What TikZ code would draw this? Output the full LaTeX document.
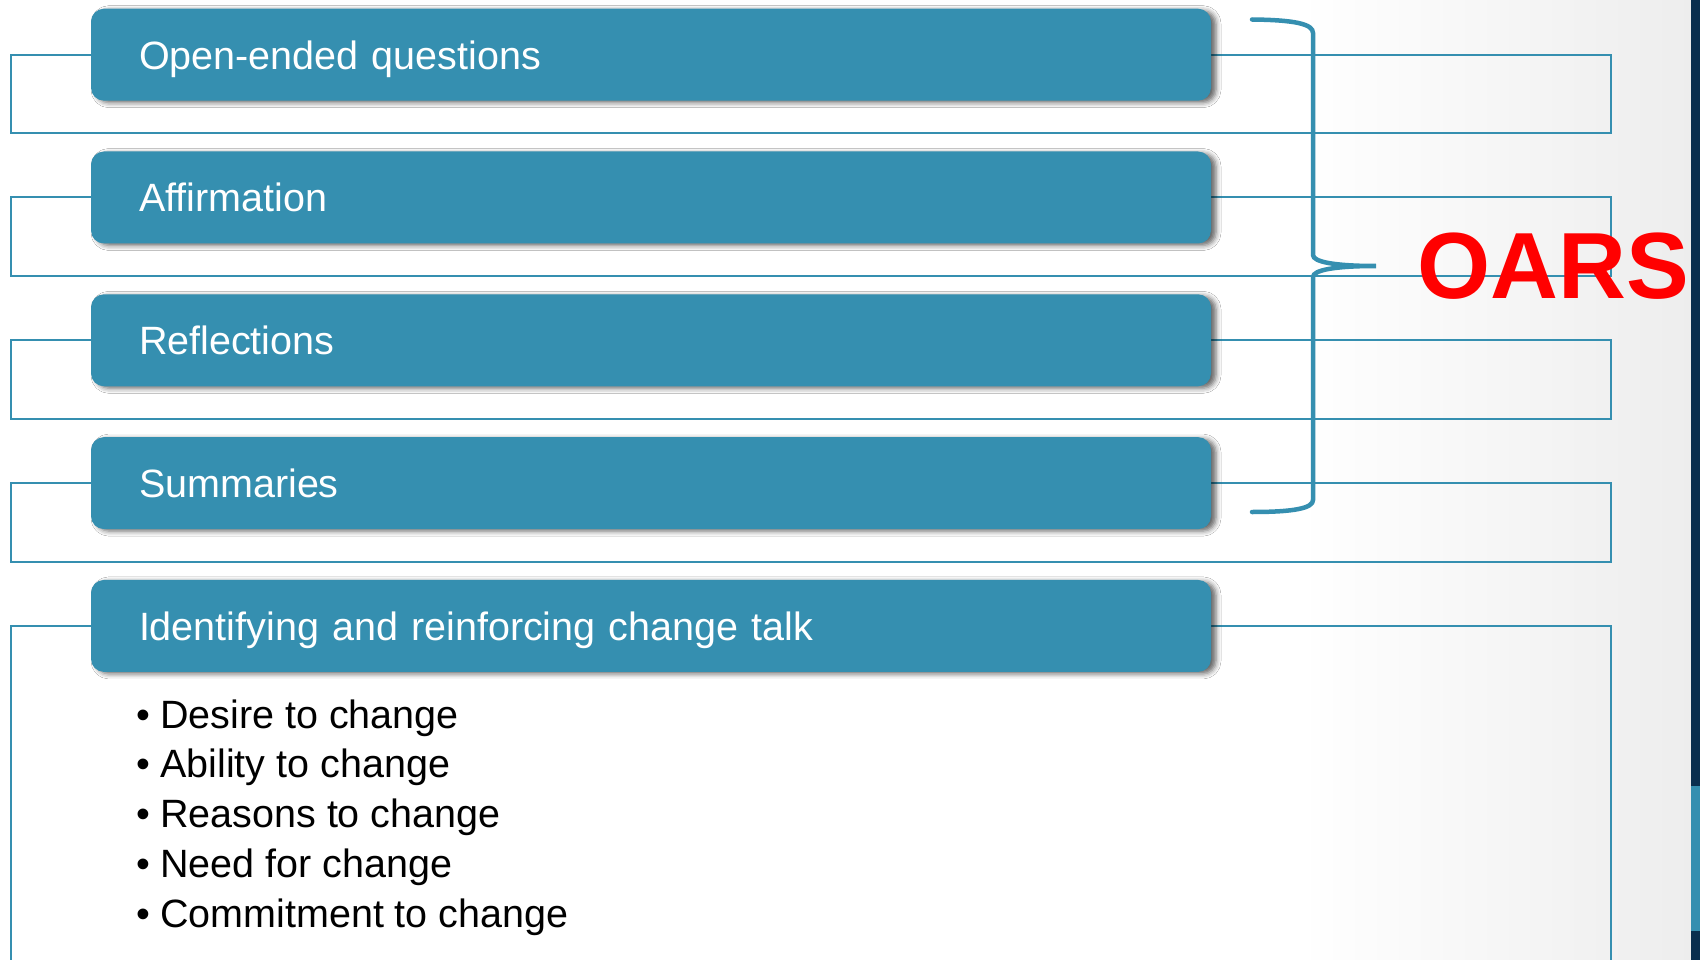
\documentclass[tikz,border=0pt]{standalone}
\usepackage{fontspec}
\setmainfont{Liberation Sans}
\usetikzlibrary{shadows.blur}
\definecolor{oarsblue}{HTML}{358FB0}
\definecolor{navy}{HTML}{0A2F4F}
\definecolor{oarsred}{HTML}{FF0000}

\begin{document}
\begin{tikzpicture}[x=1pt,y=-1pt,
  stepbox/.style={fill=oarsblue, rounded corners=13pt,
    minimum width=1120pt, minimum height=92pt,
    text width=1024pt, inner xsep=48pt, inner ysep=0pt, align=left,
    text height=29pt, text depth=0pt, text=white,
    font=\fontsize{39.5}{47}\selectfont,
    blur shadow={shadow xshift=5pt, shadow yshift=-2pt,
      shadow blur radius=5pt, shadow opacity=60}},
  frame/.style={draw=oarsblue, line width=2pt},
  bracepath/.style={draw=oarsblue, line width=4.5pt, line cap=round},
  item/.style={anchor=base west, inner sep=0pt, text=black,
    font=\fontsize{39.5}{47}\selectfont}
]
% canvas and soft grey fade towards the right edge
\useasboundingbox (0,0) rectangle (1700,960);
\fill[white] (0,0) rectangle (1700,960);
\shade[left color=white, right color=black!7] (1300,0) rectangle (1691,960);

% coloured strip on the right edge
\fill[navy] (1691,0) rectangle (1700,960);
\fill[oarsblue] (1691,786) rectangle (1700,931);

% the five headings
\coordinate (c1) at (651,54.7);
\coordinate (c2) at (651,197.5);
\coordinate (c3) at (651,340.3);
\coordinate (c4) at (651,483.1);
\coordinate (c5) at (651,625.9);

% frames behind each heading
\draw[frame] (c1) -- (10.8,54.7) |- (1611,133.4) |- (c1);
\draw[frame] (c2) -- (10.8,197.5) |- (1611,276.2) |- (c2);
\draw[frame] (c3) -- (10.8,340.3) |- (1611,419.0) |- (c3);
\draw[frame] (c4) -- (10.8,483.1) |- (1611,561.8) |- (c4);
\draw[frame] (c5) -- (10.8,625.9) -- (10.8,960);
\draw[frame] (c5) -- (1611,625.9) -- (1611,960);

\node[stepbox] (b1) at (c1) {Open-ended questions};
\node[stepbox] (b2) at (c2) {Affirmation};
\node[stepbox] (b3) at (c3) {Reflections};
\node[stepbox] (b4) at (c4) {Summaries};
\node[stepbox] (b5) at (c5) {Identifying and reinforcing change talk};

% bullet list under the last heading
\node[item] (i1) at (136.5,728) {\makebox[23.5pt][l]{•}Desire to change};
\node[item] (i2) at (136.5,777) {\makebox[23.5pt][l]{•}Ability to change};
\node[item] (i3) at (136.5,827) {\makebox[23.5pt][l]{•}Reasons to change};
\node[item] (i4) at (136.5,877) {\makebox[23.5pt][l]{•}Need for change};
\node[item] (i5) at (136.5,927) {\makebox[23.5pt][l]{•}Commitment to change};

% curly brace grouping the first four headings
\draw[bracepath] (1252,19.5) .. controls (1295,20) and (1313,24) .. (1313,33)
  -- (1313,255) .. controls (1313,262) and (1335,266) .. (1376,266)
  .. controls (1335,266) and (1313,270) .. (1313,277)
  -- (1313,500) .. controls (1313,508) and (1295,512) .. (1252,512);

\node[anchor=base west, inner sep=0pt, text=oarsred,
  font=\fontsize{94}{100}\selectfont\bfseries] (oars) at (1417,298) {OARS};
\end{tikzpicture}
\end{document}
